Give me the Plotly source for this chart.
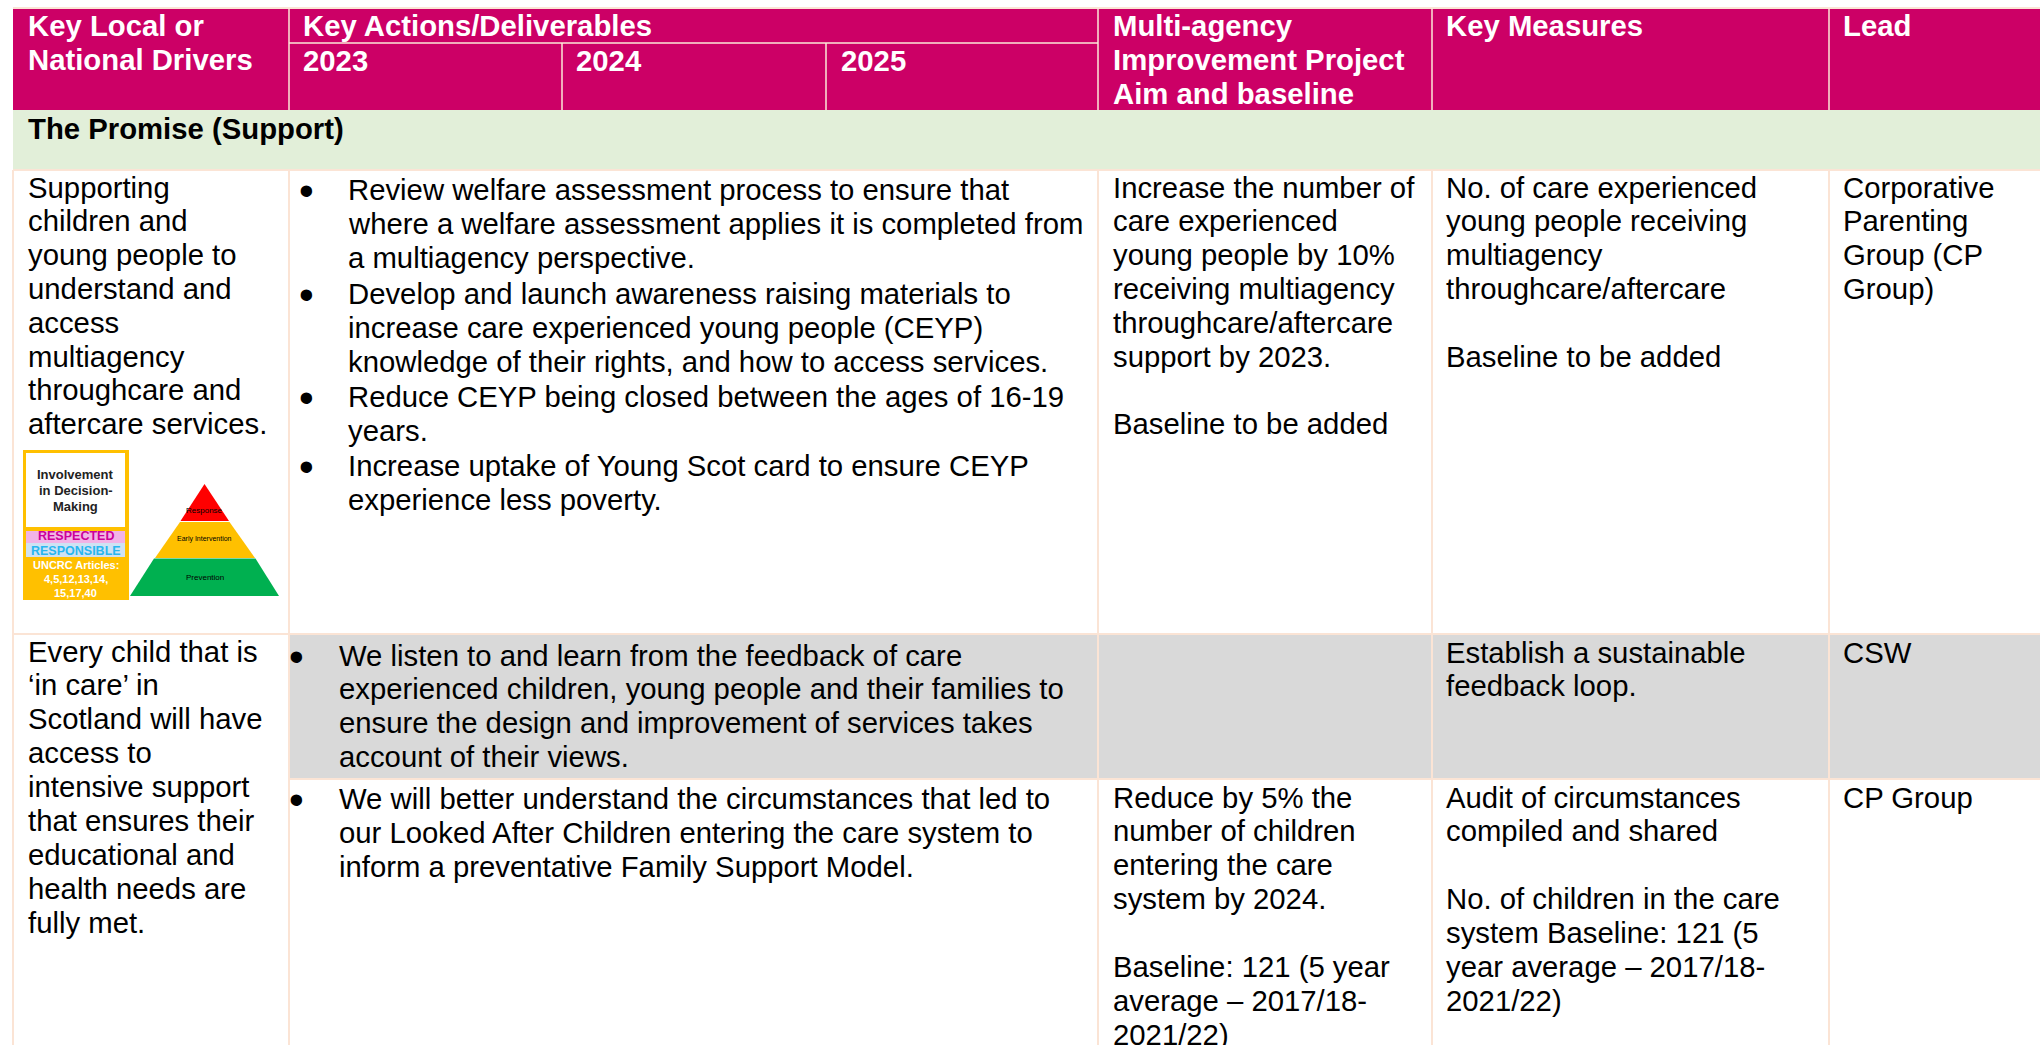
import plotly.graph_objects as go

# ---- table text ----
header_drivers = ["Key Local or", "National Drivers"]
header_actions = ["Key Actions/Deliverables"]
header_years = ["2023", "2024", "2025"]
header_aim = ["Multi-agency", "Improvement Project", "Aim and baseline"]
header_measures = ["Key Measures"]
header_lead = ["Lead"]
section_title = ["The Promise (Support)"]

r1_driver = ["Supporting", "children and", "young people to", "understand and", "access", "multiagency",
             "throughcare and", "aftercare services."]
r1_actions = ["Review welfare assessment process to ensure that",
              "where a welfare assessment applies it is completed from",
              "a multiagency perspective.",
              "Develop and launch awareness raising materials to",
              "increase care experienced young people (CEYP)",
              "knowledge of their rights, and how to access services.",
              "Reduce CEYP being closed between the ages of 16-19",
              "years.",
              "Increase uptake of Young Scot card to ensure CEYP",
              "experience less poverty."]
r1_aim = ["Increase the number of", "care experienced", "young people by 10%", "receiving multiagency",
          "throughcare/aftercare", "support by 2023.", "", "Baseline to be added"]
r1_measures = ["No. of care experienced", "young people receiving", "multiagency", "throughcare/aftercare", "",
               "Baseline to be added"]
r1_lead = ["Corporative", "Parenting", "Group (CP", "Group)"]

r2_driver = ["Every child that is", "‘in care’ in", "Scotland will have", "access to", "intensive support",
             "that ensures their", "educational and", "health needs are", "fully met."]
r2_actions = ["We listen to and learn from the feedback of care",
              "experienced children, young people and their families to",
              "ensure the design and improvement of services takes",
              "account of their views."]
r2_measures = ["Establish a sustainable", "feedback loop."]
r2_lead = ["CSW"]

r3_actions = ["We will better understand the circumstances that led to",
              "our Looked After Children entering the care system to",
              "inform a preventative Family Support Model."]
r3_aim = ["Reduce by 5% the", "number of children", "entering the care", "system by 2024.", "",
          "Baseline: 121 (5 year", "average – 2017/18-", "2021/22)"]
r3_measures = ["Audit of circumstances", "compiled and shared", "",
               "No. of children in the care", "system Baseline: 121 (5", "year average – 2017/18-", "2021/22)"]
r3_lead = ["CP Group"]

badge_top = ["Involvement", "in Decision-", "Making"]
badge_pink = ["RESPECTED"]
badge_blue = ["RESPONSIBLE"]
badge_articles = ["UNCRC Articles:", "4,5,12,13,14,", "15,17,40"]
pyramid_levels = ["Response", "Early Intervention", "Prevention"]

FONT = "Liberation Sans, Arial, sans-serif"
MAGENTA, GREEN, GRAY, EDGE = "#CC0066", "#E2EFD9", "#D9D9D9", "#FBE4D5"
SEP = "#FCE8D8"
BODY = 29.3
HEAD = 29.3

shapes, notes = [], []


def rect(x0, y0, x1, y1, fill):
    shapes.append(dict(type="rect", x0=x0, y0=y0, x1=x1, y1=y1, fillcolor=fill, line_width=0, layer="below"))


def line(x0, y0, x1, y1, color=EDGE, width=2):
    shapes.append(dict(type="line", x0=x0, y0=y0, x1=x1, y1=y1, line=dict(color=color, width=width), layer="below"))


def poly(points, fill):
    path = "M " + " L ".join(f"{x},{y}" for x, y in points) + " Z"
    shapes.append(dict(type="path", path=path, fillcolor=fill, line_width=0, layer="below"))


def put(lines, x, y, size=BODY, color="#000000", bold=False, pitch=33.85, anchor="left"):
    for i, t in enumerate(lines):
        if not t:
            continue
        notes.append(dict(x=x, y=y - 1 + i * pitch, text=f"<b>{t}</b>" if bold else t, xref="x", yref="y",
                          xanchor=anchor, yanchor="middle", showarrow=False, borderpad=0, align=anchor,
                          font=dict(family=FONT, size=size, color=color)))


def bullet(x, y):
    put(["•"], x, y + 1, size=42, anchor="center")


# column and row positions
L, C1, C2, C2b, C3, C4, C5, R = 13, 289, 562, 826, 1098, 1432, 1829, 2040
Y0, Ysub, Yh, Yg, Yr1, Yr2, B = 8, 43, 110, 170, 634, 779, 1045

# fills
rect(L, Y0, R, Yh, MAGENTA)
rect(L, Yh, R, Yg, GREEN)
rect(C1, Yr1, R, Yr2, GRAY)

# rules
line(L, Y0, R, Y0)
line(L, Yg, R, Yg)
line(L, Yr1, R, Yr1)
line(C1, Yr2, R, Yr2)
line(L, Yg, L, B)
for x in (C1, C3, C4, C5):
    line(x, Yg, x, B)
    line(x, Y0, x, Yh, color=SEP, width=1.5)
line(C1, Ysub, C3, Ysub, color=SEP, width=1.5)
for x in (C2, C2b):
    line(x, Ysub, x, Yh, color=SEP, width=1.5)

# header
put(header_drivers, 27, 26, HEAD, "#FFFFFF", True, pitch=34.5)
put(header_actions, 302, 26, HEAD, "#FFFFFF", True)
for t, x in zip(header_years, (302, 575, 840)):
    put([t], x, 61, HEAD, "#FFFFFF", True)
put(header_aim, 1112, 26, HEAD, "#FFFFFF", True, pitch=34.3)
put(header_measures, 1445, 26, HEAD, "#FFFFFF", True)
put(header_lead, 1842, 26, HEAD, "#FFFFFF", True)
put(section_title, 27, 129, HEAD, "#000000", True)

# row 1
put(r1_driver, 27, 188, pitch=33.8)
actions_y = [190, 224, 258, 294, 328, 362, 397, 431, 466, 500]
for t, y in zip(r1_actions, actions_y):
    put([t], 347, y)
for y in (190, 294, 397, 466):
    bullet(306, y)
put(r1_aim, 1112, 188, pitch=33.8)
put(r1_measures, 1445, 188, pitch=33.8)
put(r1_lead, 1842, 188, pitch=33.8)

# row 2
put(r2_driver, 27, 652, pitch=33.9)
put(r2_actions, 338, 656, pitch=33.9)
bullet(296, 656)
put(r2_measures, 1445, 653)
put(r2_lead, 1842, 653)

# row 3
put(r3_actions, 338, 799, pitch=34)
bullet(296, 799)
put(r3_aim, 1112, 798, pitch=33.9)
put(r3_measures, 1445, 798, pitch=33.9)
put(r3_lead, 1842, 798)

# badge
rect(23, 450, 129, 600, "#FFC000")
rect(26, 453, 125, 527, "#FFFFFF")
rect(26, 531, 125, 543, "#F2B3E6")
rect(26, 543, 125, 557, "#CFE2F3")
put(badge_top, 75.5, 475, 13, "#222222", True, pitch=16, anchor="center")
put(badge_pink, 75.5, 537, 12.5, "#CC0099", True, anchor="center")
put(badge_blue, 75.5, 552, 12.5, "#29B6F0", True, anchor="center")
put(badge_articles, 75.5, 566, 11, "#FFFFFF", True, pitch=14, anchor="center")

# pyramid
poly([(204.5, 484), (180.5, 521), (229, 521)], "#FF0000")
poly([(180, 522), (229.5, 522), (255, 558), (155, 558)], "#FFC000")
poly([(154, 558.5), (255.5, 558.5), (279, 596), (130, 596)], "#00B050")
put(pyramid_levels[:1], 204.5, 511, 8, "#000000", anchor="center")
put(pyramid_levels[1:2], 204.5, 540, 7, "#000000", anchor="center")
put(pyramid_levels[2:], 204.5, 578, 8, "#000000", anchor="center")

fig = go.Figure()
fig.update_layout(
    width=2040, height=1045, margin=dict(l=0, r=0, t=0, b=0),
    paper_bgcolor="#FFFFFF", plot_bgcolor="#FFFFFF", showlegend=False,
    xaxis=dict(range=[0, 2040], visible=False, fixedrange=True),
    yaxis=dict(range=[1045, 0], visible=False, fixedrange=True),
    shapes=shapes, annotations=notes,
)
fig.write_html("out.html", config=dict(displayModeBar=False),
               post_script="document.body.style.margin='0';document.documentElement.style.overflow='hidden';")
